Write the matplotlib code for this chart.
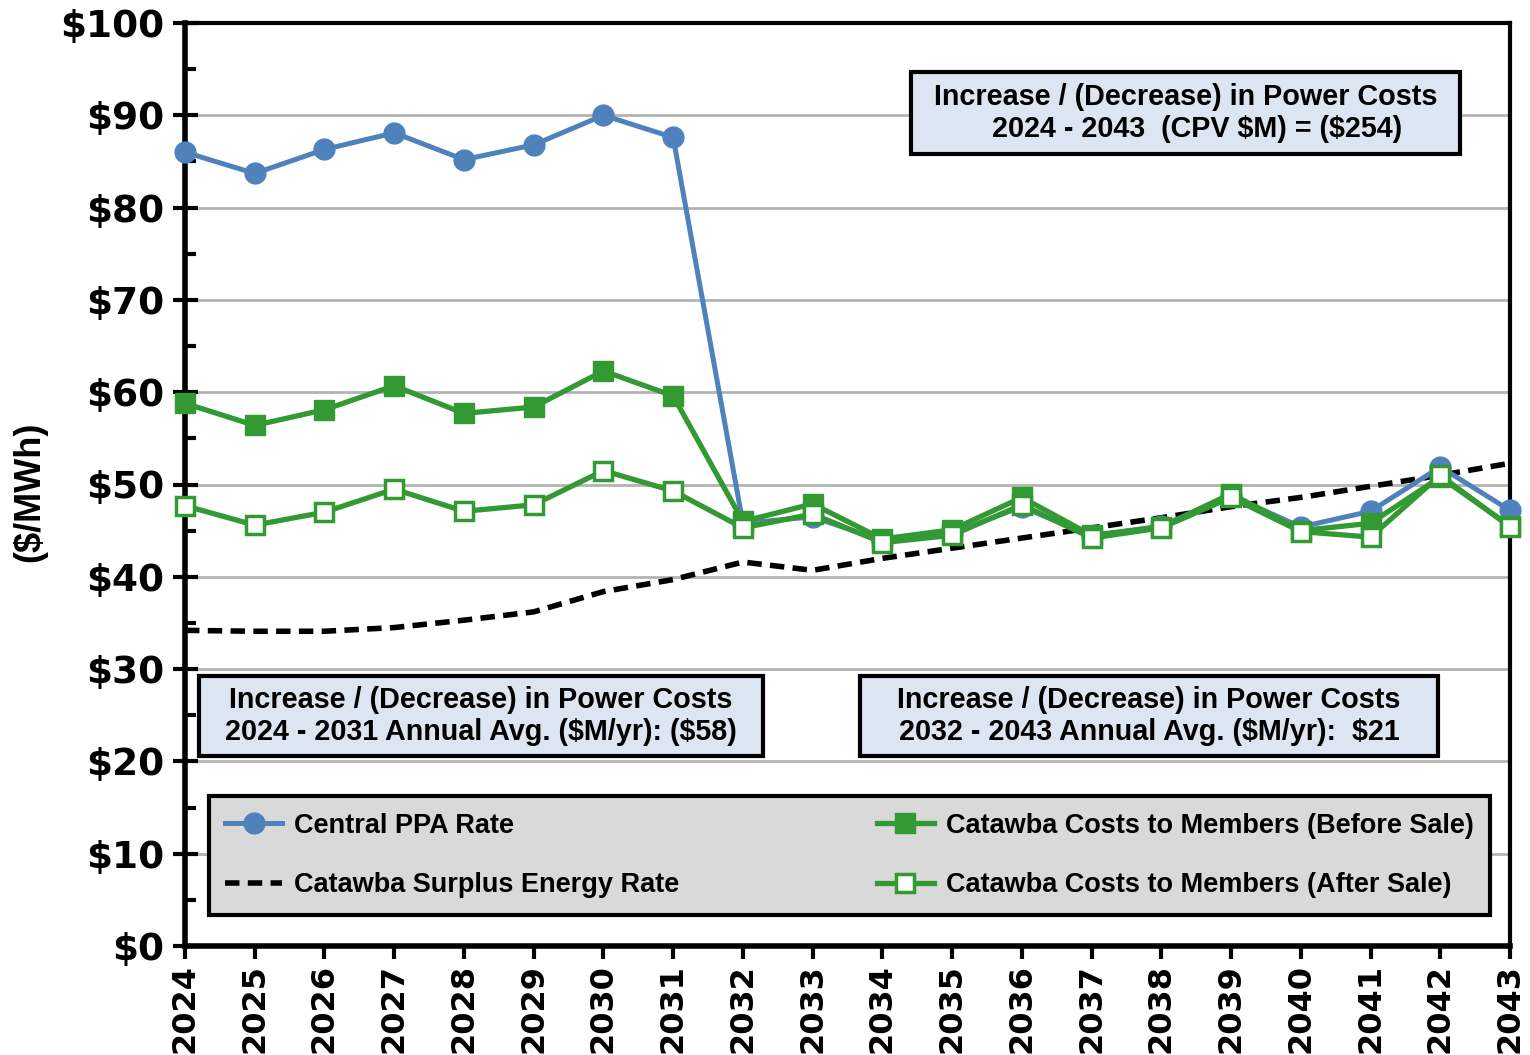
import matplotlib
matplotlib.use("Agg")
import matplotlib.pyplot as plt
from matplotlib.patches import Rectangle
from matplotlib.ticker import MultipleLocator

years = list(range(2024, 2044))

central_ppa = [86.0, 83.7, 86.3, 88.1, 85.2, 86.8, 90.0, 87.6, 45.8, 46.5,
               43.9, 44.7, 47.6, 44.4, 45.5, 48.8, 45.4, 47.1, 51.9, 47.2]
before_sale = [58.8, 56.4, 58.1, 60.7, 57.7, 58.4, 62.3, 59.6, 46.0, 47.9,
               44.1, 45.1, 48.6, 44.5, 45.4, 49.0, 45.0, 45.8, 50.8, 45.5]
after_sale = [47.7, 45.6, 47.0, 49.5, 47.1, 47.8, 51.5, 49.3, 45.3, 46.8,
              43.7, 44.5, 47.8, 44.2, 45.3, 48.6, 44.9, 44.3, 51.0, 45.4]
surplus = [34.2, 34.1, 34.1, 34.5, 35.3, 36.2, 38.4, 39.7, 41.6, 40.7,
           42.0, 43.1, 44.2, 45.3, 46.4, 47.6, 48.6, 49.8, 51.0, 52.3]

labels = ["Central PPA Rate", "Catawba Surplus Energy Rate",
          "Catawba Costs to Members (Before Sale)",
          "Catawba Costs to Members (After Sale)"]

box_texts = [
    "Increase / (Decrease) in Power Costs\n   2024 - 2043  (CPV \\$M) = (\\$254)",
    "Increase / (Decrease) in Power Costs\n2024 - 2031 Annual Avg. (\\$M/yr): (\\$58)",
    "Increase / (Decrease) in Power Costs\n2032 - 2043 Annual Avg. (\\$M/yr):  \\$21",
]

W, H = 1530, 1055
BLUE = "#4f81bd"
GREEN = "#339933"
bold_sans = ["Liberation Sans", "DejaVu Sans"]


def fx(x):
    return x / W


def fy(y):
    return 1 - y / H


fig = plt.figure(figsize=(15.3, 10.55), dpi=100)
ax = fig.add_axes([fx(185), fy(946), fx(1510) - fx(185), fy(23) - fy(946)])

ax.set_xlim(2024, 2043)
ax.set_ylim(0, 100)
ax.yaxis.grid(True, color="#b3b3b3", linewidth=2)
ax.set_axisbelow(True)

l_dash, = ax.plot(years, surplus, color="black", linestyle=(0, (2.6, 1.5)),
                  linewidth=4, zorder=3, clip_on=False)
l_blue, = ax.plot(years, central_ppa, color=BLUE, linewidth=3.6, marker="o",
                  markersize=15, zorder=4, clip_on=False)
l_before, = ax.plot(years, before_sale, color=GREEN, linewidth=3.8, marker="s",
                    markersize=14, zorder=5, clip_on=False)
l_after, = ax.plot(years, after_sale, color=GREEN, linewidth=3.8, marker="s",
                   markersize=13, markerfacecolor="white", markeredgewidth=2.5,
                   markeredgecolor=GREEN, zorder=6, clip_on=False)

ax.set_xticks(years)
ax.set_xticklabels([str(y) for y in years], rotation=90, fontsize=23,
                   fontweight="bold", family="DejaVu Sans")
ax.set_yticks(range(0, 101, 10))
ax.yaxis.set_minor_locator(MultipleLocator(5))
ax.set_yticklabels(["\\$%d" % v for v in range(0, 101, 10)], fontsize=27,
                   fontweight="bold", family="DejaVu Sans")
ax.tick_params(axis="y", which="major", direction="inout", length=18, width=3, pad=6)
ax.tick_params(axis="y", which="minor", direction="in", length=8, width=3)
ax.tick_params(axis="x", which="major", direction="out", length=9, width=3, pad=4)

for side, lw in [("left", 4), ("bottom", 4), ("top", 3), ("right", 3)]:
    ax.spines[side].set_linewidth(lw)
    ax.spines[side].set_color("black")

fig.text(fx(30), fy(492), "(\\$/MWh)", rotation=90, ha="center", va="center",
         fontsize=26, fontweight="bold", family=bold_sans)

leg = ax.legend([l_blue, l_dash, l_before, l_after], labels, ncol=2,
                loc="lower left", mode="expand",
                bbox_to_anchor=(0.018, 0.034, 0.967, 0.133), borderaxespad=0,
                prop={"family": bold_sans, "weight": "bold", "size": 19.5},
                facecolor="#d9d9d9", edgecolor="black", framealpha=1,
                fancybox=False, handlelength=2.1, handletextpad=0.45,
                labelspacing=1.25, borderpad=0.6)
leg.get_frame().set_linewidth(3)

boxes = [(911, 72, 1460, 154), (199, 676, 763, 756), (860, 676, 1438, 756)]
for (x0, y0, x1, y1), txt in zip(boxes, box_texts):
    rect = Rectangle((fx(x0), fy(y1)), fx(x1) - fx(x0), fy(y0) - fy(y1),
                     transform=fig.transFigure, facecolor="#dce6f2",
                     edgecolor="black", linewidth=3, zorder=10)
    fig.add_artist(rect)
    fig.text(fx((x0 + x1) / 2), fy((y0 + y1) / 2), txt, ha="center",
             va="center", fontsize=20.7, fontweight="bold", family=bold_sans,
             linespacing=1.22, zorder=11)

fig.savefig("out.png", dpi=100)
